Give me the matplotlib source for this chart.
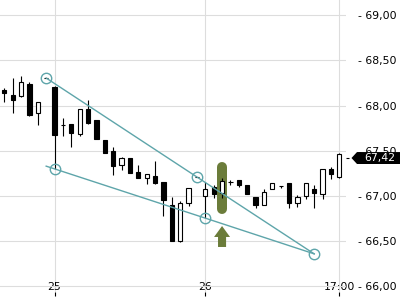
import matplotlib
matplotlib.use('Agg')
import matplotlib.pyplot as plt
import numpy as np
from matplotlib.patches import Polygon
from matplotlib.transforms import Affine2D, ScaledTranslation, blended_transform_factory

# candles (one per bar, index 0..40)
opens  = [68.17, 68.12, 68.11, 68.24, 67.92, 68.30, 68.21, 67.79, 67.80, 67.69,
          67.96, 67.84, 67.62, 67.50, 67.34, 67.42, 67.27, 67.20, 67.22, 67.16,
          66.90, 66.50, 66.92, 67.21, 67.00, 67.10, 67.03, 67.16, 67.18, 67.12,
          66.99, 66.90, 67.08, 67.11, 67.14, 66.92, 67.00, 67.08, 67.02, 67.30,
          67.21]
highs  = [68.19, 68.30, 68.33, 68.26, 68.04, 68.30, 68.22, 67.86, 67.80, 67.96,
          68.06, 67.84, 67.62, 67.54, 67.43, 67.42, 67.34, 67.24, 67.39, 67.16,
          66.99, 66.95, 67.09, 67.21, 67.16, 67.12, 67.20, 67.18, 67.18, 67.12,
          66.99, 67.08, 67.14, 67.11, 67.14, 67.01, 67.14, 67.12, 67.30, 67.32,
          67.48]
lows   = [68.04, 67.92, 68.10, 67.89, 67.79, 68.30, 67.30, 67.66, 67.54, 67.66,
          67.80, 67.63, 67.48, 67.23, 67.29, 67.25, 67.20, 67.13, 67.13, 66.78,
          66.50, 66.49, 66.89, 67.21, 66.76, 66.98, 66.98, 67.12, 67.10, 67.02,
          66.87, 66.90, 67.08, 67.09, 66.87, 66.88, 66.97, 66.87, 66.97, 67.19,
          67.20]
closes = [68.14, 68.06, 68.26, 67.90, 68.04, 68.30, 67.68, 67.79, 67.70, 67.96,
          67.81, 67.63, 67.48, 67.33, 67.42, 67.25, 67.20, 67.24, 67.14, 66.96,
          66.50, 66.92, 67.09, 67.21, 67.08, 67.02, 67.17, 67.16, 67.12, 67.02,
          66.90, 67.04, 67.14, 67.11, 66.92, 66.99, 67.14, 67.03, 67.30, 67.24,
          67.47]

x_ticks = [6, 24, 40]
x_labels = ['25', '26', '17:00']
y_levels = [66.0, 66.5, 67.0, 67.5, 68.0, 68.5, 69.0]
last_price = 67.42

# trend lines (upper and lower), with anchor points
upper_x = [5, 23, 37]
upper_y = [68.305, 67.21, 66.36]
lower_x = [5, 6, 24, 37]
lower_y = [67.33, 67.30, 66.755, 66.36]
lower_anchor_x = [6, 24]
lower_anchor_y = [67.30, 66.755]

# signal marker
signal_idx = 26
pill_lo, pill_hi = 66.856, 67.32
arrow_tip, arrow_tail = 66.668, 66.436

teal = '#5ea5aa'
green = '#6b7c3a'

fig = plt.figure(figsize=(4, 3), dpi=100)
ax = fig.add_axes([0, 8 / 300, 346 / 400, 292 / 300])

o = np.array(opens)
c = np.array(closes)
idx = np.arange(len(o))

ax.grid(True, color='#dddddd', lw=0.8, zorder=0)
ax.set_axisbelow(True)

# signal pill behind the candles
ax.plot([signal_idx, signal_idx], [pill_lo, pill_hi], color=green, lw=7.2,
        solid_capstyle='round', zorder=1.5)
ax.annotate('', xy=(signal_idx, arrow_tip), xytext=(signal_idx, arrow_tail),
            arrowprops=dict(arrowstyle='simple,head_length=7.9,head_width=11.5,tail_width=5.8',
                            color=green, lw=0, mutation_scale=1, shrinkA=0, shrinkB=0))

# candles
ax.vlines(idx, lows, highs, color='black', lw=0.8, zorder=2)
body_col = np.where(c >= o, 'white', 'black')
ax.bar(idx, np.abs(c - o), bottom=np.minimum(o, c), width=0.5, color=body_col,
       edgecolor='black', lw=0.8, zorder=3)

# trend lines
ax.plot(upper_x, upper_y, color=teal, lw=1, zorder=4)
ax.plot(lower_x, lower_y, color=teal, lw=1, zorder=4)
ax.plot(upper_x, upper_y, 'o', ms=7.5, mfc='none', mec=teal, mew=1, zorder=5)
ax.plot(lower_anchor_x, lower_anchor_y, 'o', ms=7.5, mfc='none', mec=teal, mew=1, zorder=5)

ax.set_xlim(-0.513, 40.8)
ax.set_ylim(65.938, 69.168)

for s in ax.spines.values():
    s.set_visible(False)

ax.set_xticks(x_ticks, x_labels)
ax.tick_params(axis='x', length=2.9, width=0.8, pad=-9.8, labelsize=7.8)

ax.yaxis.tick_right()
ax.set_yticks(y_levels, ['- ' + f'{v:.2f}'.replace('.', ',') for v in y_levels])
ax.tick_params(axis='y', which='major', length=0, pad=8.4, labelsize=7.8)
for t in ax.get_yticklabels():
    t.set_bbox(dict(fc='white', ec='none', pad=0.5))
ax.set_yticks([last_price], minor=True)
ax.tick_params(axis='y', which='minor', length=2.2, width=0.8, direction='out')

# last price tag
base = blended_transform_factory(ax.transAxes, ax.transData)
tag_tr = Affine2D().scale(fig.dpi / 72) + ScaledTranslation(1.0, last_price, base)
tag = Polygon([(3.96, 0), (7.92, 4.3), (40.5, 4.3), (40.5, -4.3), (7.92, -4.3)],
              closed=True, fc='black', ec='none', transform=tag_tr, clip_on=False, zorder=6)
ax.add_patch(tag)
ax.text(24.2, 0, f'{last_price:.2f}'.replace('.', ','), transform=tag_tr, color='white',
        fontsize=7.8, ha='center', va='center', zorder=7, clip_on=False)

fig.savefig('out.png', dpi=100)
